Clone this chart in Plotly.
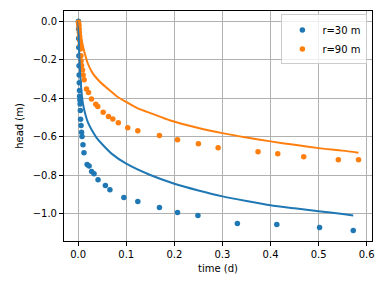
import plotly.graph_objects as go

# observed data r=30 m
t30 = [0.0005, 0.0008, 0.001, 0.0012, 0.0015, 0.0018, 0.002, 0.0023, 0.0027, 0.003,
       0.0035, 0.004, 0.0045, 0.005, 0.006, 0.007, 0.008, 0.01, 0.012, 0.0186,
       0.0227, 0.028, 0.033, 0.0413, 0.0566, 0.066, 0.095, 0.124, 0.169, 0.2066,
       0.249, 0.331, 0.413, 0.502, 0.572]
h30 = [-0.0, -0.04, -0.09, -0.137, -0.18, -0.232, -0.28, -0.32, -0.36, -0.39,
       -0.41, -0.43, -0.465, -0.51, -0.543, -0.577, -0.6, -0.642, -0.684, -0.745,
       -0.753, -0.782, -0.793, -0.824, -0.855, -0.876, -0.917, -0.938, -0.969, -0.995,
       -1.010, -1.052, -1.057, -1.073, -1.088]

# observed data r=90 m
t90 = [0.0005, 0.001, 0.0015, 0.002, 0.0025, 0.003, 0.0035, 0.004, 0.005, 0.0056,
       0.006, 0.007, 0.009, 0.0103, 0.0124, 0.0173, 0.0215, 0.0277, 0.0366, 0.0407,
       0.052, 0.063, 0.072, 0.0835, 0.103, 0.124, 0.169, 0.2066, 0.25, 0.291,
       0.374, 0.415, 0.469, 0.541, 0.583]
h90 = [-0.005, -0.015, -0.024, -0.04, -0.059, -0.08, -0.102, -0.125, -0.145, -0.18,
       -0.206, -0.23, -0.254, -0.280, -0.304, -0.352, -0.371, -0.404, -0.432, -0.444,
       -0.473, -0.496, -0.508, -0.528, -0.554, -0.570, -0.594, -0.617, -0.637, -0.658,
       -0.679, -0.689, -0.705, -0.720, -0.720]

# model curves
tm30 = [0.0003, 0.001, 0.002, 0.005, 0.01, 0.015, 0.02, 0.028, 0.038, 0.05, 0.07, 0.1,
        0.15, 0.2, 0.25, 0.3, 0.35, 0.4, 0.45, 0.5, 0.55, 0.572]
hm30 = [-0.0, -0.07, -0.16, -0.31, -0.43, -0.485, -0.525, -0.565, -0.605, -0.64, -0.69, -0.741,
        -0.80, -0.845, -0.88, -0.911, -0.935, -0.957, -0.973, -0.988, -1.003, -1.010]

tm90 = [0.0015, 0.003, 0.006, 0.01, 0.015, 0.02, 0.03, 0.045, 0.06, 0.08, 0.1, 0.125,
        0.155, 0.19, 0.25, 0.3, 0.35, 0.4, 0.45, 0.5, 0.55, 0.583]
hm90 = [-0.0, -0.03, -0.08, -0.13, -0.18, -0.22, -0.27, -0.315, -0.348, -0.39, -0.42, -0.455,
        -0.482, -0.515, -0.555, -0.582, -0.605, -0.625, -0.643, -0.66, -0.673, -0.684]

C0 = "#1f77b4"
C1 = "#ff7f0e"
FONT = "DejaVu Sans"

fig = go.Figure()
fig.add_trace(go.Scatter(x=t30, y=h30, mode="markers", name="r=30 m",
                         marker=dict(color=C0, size=5.5)))
fig.add_trace(go.Scatter(x=t90, y=h90, mode="markers", name="r=90 m",
                         marker=dict(color=C1, size=5.5)))
fig.add_trace(go.Scatter(x=tm30, y=hm30, mode="lines", showlegend=False,
                         line=dict(color=C0, width=2, shape="spline", smoothing=0.6)))
fig.add_trace(go.Scatter(x=tm90, y=hm90, mode="lines", showlegend=False,
                         line=dict(color=C1, width=2, shape="spline", smoothing=0.6)))

axis_common = dict(showline=True, linecolor="black", linewidth=1, mirror=True,
                   ticks="outside", ticklen=4, tickcolor="black", tickwidth=1,
                   showgrid=True, gridcolor="#b0b0b0", gridwidth=1, zeroline=False,
                   tickfont=dict(family=FONT, size=10, color="black"))

fig.update_layout(
    width=385, height=289,
    margin=dict(l=64, r=11, t=10, b=48),
    paper_bgcolor="white", plot_bgcolor="white",
    font=dict(family=FONT, size=10, color="black"),
    xaxis=dict(range=[-0.0295, 0.611], tickvals=[0, 0.1, 0.2, 0.3, 0.4, 0.5, 0.6],
               tickformat=".1f", title=dict(text="time (d)", standoff=5,
                                            font=dict(family=FONT, size=10)),
               **axis_common),
    yaxis=dict(range=[-1.143, 0.053], tickvals=[0, -0.2, -0.4, -0.6, -0.8, -1.0],
               tickformat=".1f", title=dict(text="head (m)", standoff=7,
                                            font=dict(family=FONT, size=10)),
               **axis_common),
    legend=dict(x=0.985, y=0.985, xanchor="right", yanchor="top",
                bgcolor="rgba(255,255,255,0.8)", bordercolor="#cccccc", borderwidth=1,
                font=dict(family=FONT, size=10), itemwidth=30, tracegroupgap=0),
    showlegend=True,
)

fig.write_html("out.html")
